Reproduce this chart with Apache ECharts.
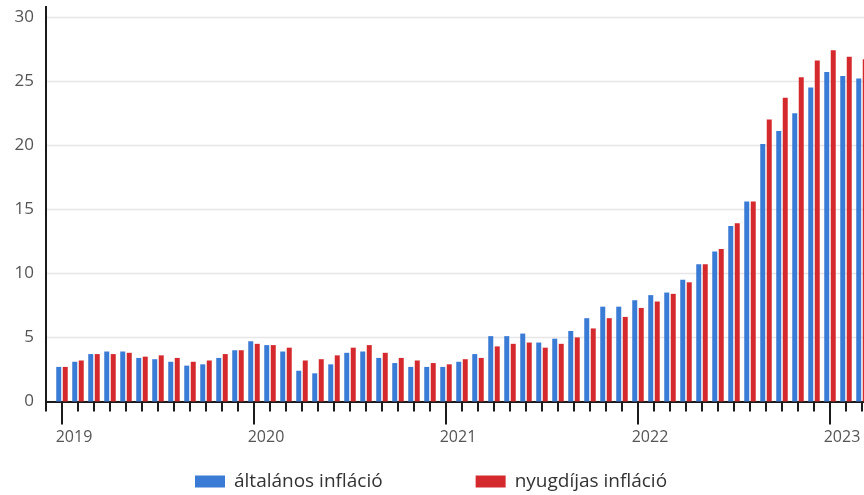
<!DOCTYPE html>
<html>
<head>
<meta charset="utf-8">
<script src="https://cdn.jsdelivr.net/npm/echarts@6/dist/echarts.min.js"></script>
<style>
  html, body { margin: 0; padding: 0; background: #ffffff; }
  #chart { width: 864px; height: 495px; }
</style>
</head>
<body>
<div id="chart"></div>
<script>
// Months on the x axis (December 2018 is the empty slot at the axis origin,
// April 2023 runs past the right edge)
const months = [
  '2018-12',
  '2019-01','2019-02','2019-03','2019-04','2019-05','2019-06','2019-07','2019-08','2019-09','2019-10','2019-11','2019-12',
  '2020-01','2020-02','2020-03','2020-04','2020-05','2020-06','2020-07','2020-08','2020-09','2020-10','2020-11','2020-12',
  '2021-01','2021-02','2021-03','2021-04','2021-05','2021-06','2021-07','2021-08','2021-09','2021-10','2021-11','2021-12',
  '2022-01','2022-02','2022-03','2022-04','2022-05','2022-06','2022-07','2022-08','2022-09','2022-10','2022-11','2022-12',
  '2023-01','2023-02','2023-03','2023-04'
];

// Year labels shown under the January ticks
const yearLabels = ['2019', '2020', '2021', '2022', '2023'];

// Year-on-year consumer price change, %
const generalInflation = [
  null,
  2.7, 3.1, 3.7, 3.9, 3.9, 3.4, 3.3, 3.1, 2.8, 2.9, 3.4, 4.0,
  4.7, 4.4, 3.9, 2.4, 2.2, 2.9, 3.8, 3.9, 3.4, 3.0, 2.7, 2.7,
  2.7, 3.1, 3.7, 5.1, 5.1, 5.3, 4.6, 4.9, 5.5, 6.5, 7.4, 7.4,
  7.9, 8.3, 8.5, 9.5, 10.7, 11.7, 13.7, 15.6, 20.1, 21.1, 22.5, 24.5,
  25.7, 25.4, 25.2, null
];

const pensionerInflation = [
  null,
  2.7, 3.2, 3.7, 3.7, 3.8, 3.5, 3.6, 3.4, 3.1, 3.2, 3.7, 4.0,
  4.5, 4.4, 4.2, 3.2, 3.3, 3.6, 4.2, 4.4, 3.8, 3.4, 3.2, 3.0,
  2.9, 3.3, 3.4, 4.3, 4.5, 4.6, 4.2, 4.5, 5.0, 5.7, 6.5, 6.6,
  7.3, 7.8, 8.4, 9.3, 10.7, 11.9, 13.9, 15.6, 22.0, 23.7, 25.3, 26.6,
  27.4, 26.9, 26.7, null
];

const seriesNames = ['általános infláció', 'nyugdíjas infláció'];
const colors = ['#3a7bd5', '#d42a2e'];

const isJanuary = (idx, value) => value.slice(5) === '01';
const yearOf = (value) => {
  const y = value.slice(0, 4);
  return yearLabels.indexOf(y) >= 0 ? y : '';
};

const chart = echarts.init(document.getElementById('chart'));

chart.setOption({
  animation: false,
  textStyle: { fontFamily: 'Open Sans, Noto Sans, sans-serif' },
  // plot area runs 14px past the right edge so the last month is cut off
  grid: {
    left: 46, width: 832, top: 17, height: 384.5,
    containLabel: false,
    outerBoundsMode: 'none'
  },
  legend: {
    data: seriesNames,
    left: 190,
    top: 467,
    icon: 'rect',
    itemWidth: 30,
    itemHeight: 12,
    itemGap: 93,
    textStyle: { fontSize: 19, color: '#333', padding: [0, 0, 0, 4] }
  },
  xAxis: [
    {
      type: 'category',
      data: months,
      boundaryGap: false,
      axisLine: { lineStyle: { color: '#1a1a1a', width: 2 } },
      axisTick: { show: true, interval: 0, length: 10, lineStyle: { color: '#1a1a1a', width: 2 } },
      axisLabel: { show: false },
      splitLine: { show: false }
    },
    {
      type: 'category',
      data: months,
      boundaryGap: false,
      position: 'bottom',
      axisLine: { show: false },
      axisTick: { show: true, interval: isJanuary, length: 23, lineStyle: { color: '#1a1a1a', width: 2 } },
      axisLabel: {
        interval: isJanuary,
        formatter: yearOf,
        color: '#555',
        fontSize: 16,
        margin: 28,
        align: 'center',
        padding: [0, 0, 0, 24]
      },
      splitLine: { show: false }
    }
  ],
  yAxis: {
    type: 'value',
    min: 0,
    max: 30,
    interval: 5,
    axisLine: {
      show: true,
      symbol: ['none', 'rect'],
      symbolSize: [2, 22],
      lineStyle: { color: '#1a1a1a', width: 2 }
    },
    axisTick: { show: false },
    axisLabel: { color: '#555', fontSize: 17, margin: 12 },
    splitLine: { lineStyle: { color: '#e6e6e6', width: 1.3 } }
  },
  series: [
    {
      name: seriesNames[0],
      type: 'bar',
      xAxisIndex: 0,
      data: generalInflation,
      barWidth: 5,
      barGap: '30%',
      itemStyle: { color: colors[0] }
    },
    {
      name: seriesNames[1],
      type: 'bar',
      xAxisIndex: 0,
      data: pensionerInflation,
      barWidth: 5,
      barGap: '30%',
      itemStyle: { color: colors[1] }
    }
  ]
});
</script>
</body>
</html>
